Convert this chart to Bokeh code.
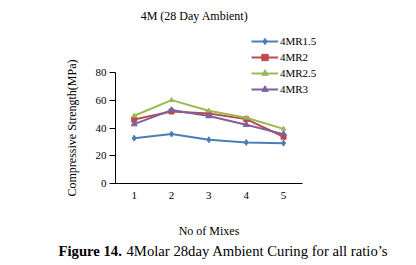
from bokeh.plotting import figure
from bokeh.models import Label, Legend, LegendItem, FixedTicker, Range1d, LinearAxis
from bokeh.embed import file_html
from bokeh.resources import INLINE

# Compressive strength (MPa) for each mix, 4 molar, 28 day ambient curing
mixes = [1, 2, 3, 4, 5]
r1_5 = [32.7, 35.6, 31.5, 29.6, 29.1]
r2 = [46.1, 51.9, 50.5, 46.4, 33.7]
r2_5 = [48.8, 60.1, 52.4, 47.4, 39.4]
r3 = [42.8, 52.9, 48.6, 42.3, 35.6]

series_names = ["4MR1.5", "4MR2", "4MR2.5", "4MR3"]
series_values = [r1_5, r2, r2_5, r3]
colors = ["#4A7EBB", "#BE4B48", "#98B954", "#7D60A0"]
markers = ["diamond", "square", "triangle", "triangle"]
marker_sizes = [6, 5, 4.5, 6]
y_ticks = [0, 20, 40, 60, 80]

FONT = "Liberation Serif"

# One frame fills the whole canvas; the axes sit at fixed data positions
# and their bounds keep them to the 0.5-5.5 / 0-80 span.
p = figure(width=416, height=265, output_backend="svg", toolbar_location=None,
           x_range=Range1d(-2.579, 8.559), y_range=Range1d(-59.1, 131.9),
           x_axis_location=None, y_axis_location=None, min_border=0)
p.background_fill_color = "white"
p.border_fill_color = "white"
p.outline_line_color = None
p.xgrid.grid_line_color = None
p.ygrid.grid_line_color = None

xax = LinearAxis(fixed_location=0, bounds=(0.5, 5.5),
                 ticker=FixedTicker(ticks=mixes))
yax = LinearAxis(fixed_location=0.5, bounds=(0, 80),
                 ticker=FixedTicker(ticks=y_ticks))
for ax in (xax, yax):
    ax.axis_line_color = "black"
    ax.axis_line_width = 1
    ax.minor_tick_line_color = None
    ax.major_label_text_font = FONT
    ax.major_label_text_font_size = "11px"
    ax.major_label_text_color = "black"
    ax.axis_label_text_font = FONT
    ax.axis_label_text_font_size = "12px"
    ax.axis_label_text_font_style = "normal"
    ax.axis_label_text_color = "black"
xax.major_tick_line_color = None
xax.major_tick_out = 0
xax.major_label_standoff = 8
xax.axis_label = "No of Mixes"
xax.axis_label_standoff = 22
yax.major_tick_line_color = "black"
yax.major_tick_out = 6
yax.major_tick_in = 0
yax.major_label_standoff = 3
yax.axis_label = "Compressive Strength(MPa)"
yax.axis_label_standoff = 14
p.add_layout(xax, "below")
p.add_layout(yax, "left")

items = []
for name, vals, col, mk, ms in zip(series_names, series_values, colors, markers, marker_sizes):
    ln = p.line(mixes, vals, line_color=col, line_width=2)
    sc = p.scatter(mixes, vals, marker=mk, size=ms, fill_color=col, line_color=col)
    items.append(LegendItem(label=name, renderers=[ln, sc]))

legend = Legend(items=items, location=(251, 168), orientation="vertical",
                glyph_width=27, glyph_height=16, label_height=16, spacing=0,
                label_standoff=2, padding=0, margin=0,
                border_line_color=None, background_fill_alpha=0,
                label_text_font=FONT, label_text_font_size="11px",
                label_text_color="black")
p.add_layout(legend, "center")

# chart title
p.add_layout(Label(x=194, y=250, x_units="screen", y_units="screen",
                   text="4M (28 Day Ambient)", text_font=FONT,
                   text_font_size="12px", text_align="center",
                   text_baseline="middle", text_color="black"))

# figure caption
p.add_layout(Label(x=58, y=15, x_units="screen", y_units="screen",
                   text="Figure 14.", text_font=FONT, text_font_style="bold",
                   text_font_size="14.7px", text_align="left",
                   text_baseline="middle", text_color="black"))
p.add_layout(Label(x=126, y=15, x_units="screen", y_units="screen",
                   text="4Molar 28day Ambient Curing for all ratio\u2019s",
                   text_font=FONT, text_font_size="14.7px", text_align="left",
                   text_baseline="middle", text_color="black"))

open("out.html", "w").write(file_html(p, INLINE))
